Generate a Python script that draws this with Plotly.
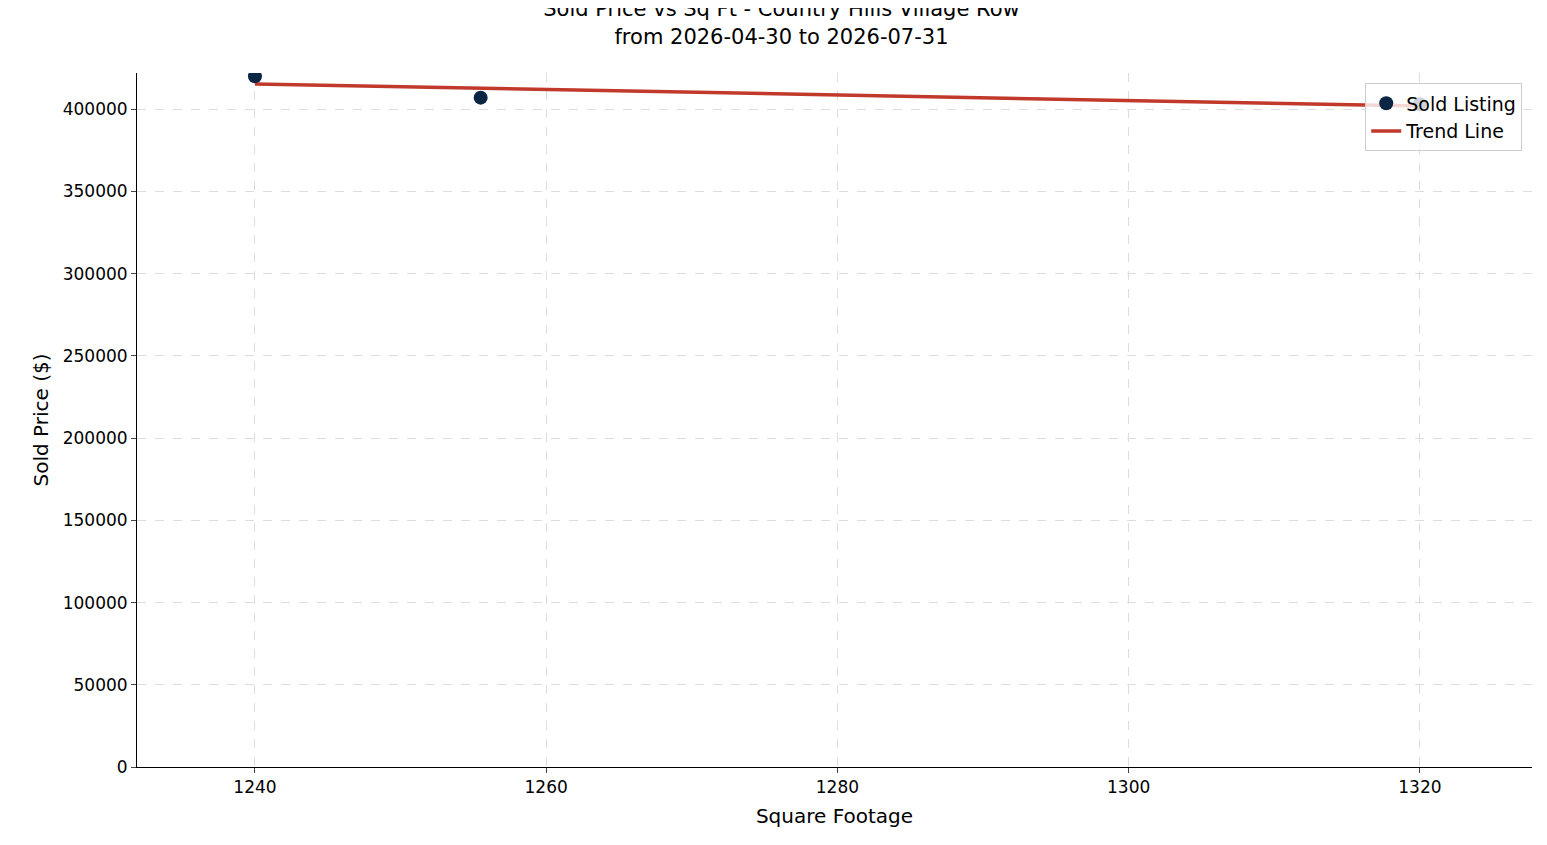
import numpy as np
import plotly.graph_objects as go

sqft = [1240, 1255.5, 1320]
price = [420000, 407000, 403000]

m, b = np.polyfit(sqft, price, 1)
tx = [min(sqft), max(sqft)]
ty = [m * x + b for x in tx]

fig = go.Figure()
fig.add_trace(go.Scatter(x=tx, y=ty, mode="lines", name="Trend Line",
                         line=dict(color="#c0392b", width=3.5)))
fig.add_trace(go.Scatter(x=sqft, y=price, mode="markers", name="Sold Listing",
                         marker=dict(color="#0b2545", size=14)))

fig.update_layout(
    width=1547, height=845, plot_bgcolor="white", paper_bgcolor="white",
    font=dict(family="DejaVu Sans", size=17, color="black"),
    title=dict(text="Sold Price vs Sq Ft - Country Hills Village Row<br>from 2026-04-30 to 2026-07-31",
               x=0.5, xanchor="center", y=0.99, yanchor="top", font=dict(size=21)),
    margin=dict(l=129, r=23, t=65, b=86),
    legend=dict(x=0.993, y=0.985, xanchor="right", yanchor="top", bgcolor="rgba(255,255,255,0.8)",
                bordercolor="#cccccc", borderwidth=1, traceorder="reversed", font=dict(size=19)),
    xaxis=dict(title=dict(text="Square Footage", standoff=12), range=[1231.9, 1327.7],
               tickvals=[1240, 1260, 1280, 1300, 1320], showgrid=True, gridcolor="#dddddd",
               griddash="dash", showline=True, linecolor="black", ticks="outside", zeroline=False),
    yaxis=dict(title=dict(text="Sold Price ($)", standoff=8), range=[0, 422000], tickformat="d",
               tickvals=list(range(0, 400001, 50000)), showgrid=True, gridcolor="#dddddd",
               griddash="dash", showline=True, linecolor="black", ticks="outside", zeroline=False),
    showlegend=True,
)
fig.write_html("out.html")
